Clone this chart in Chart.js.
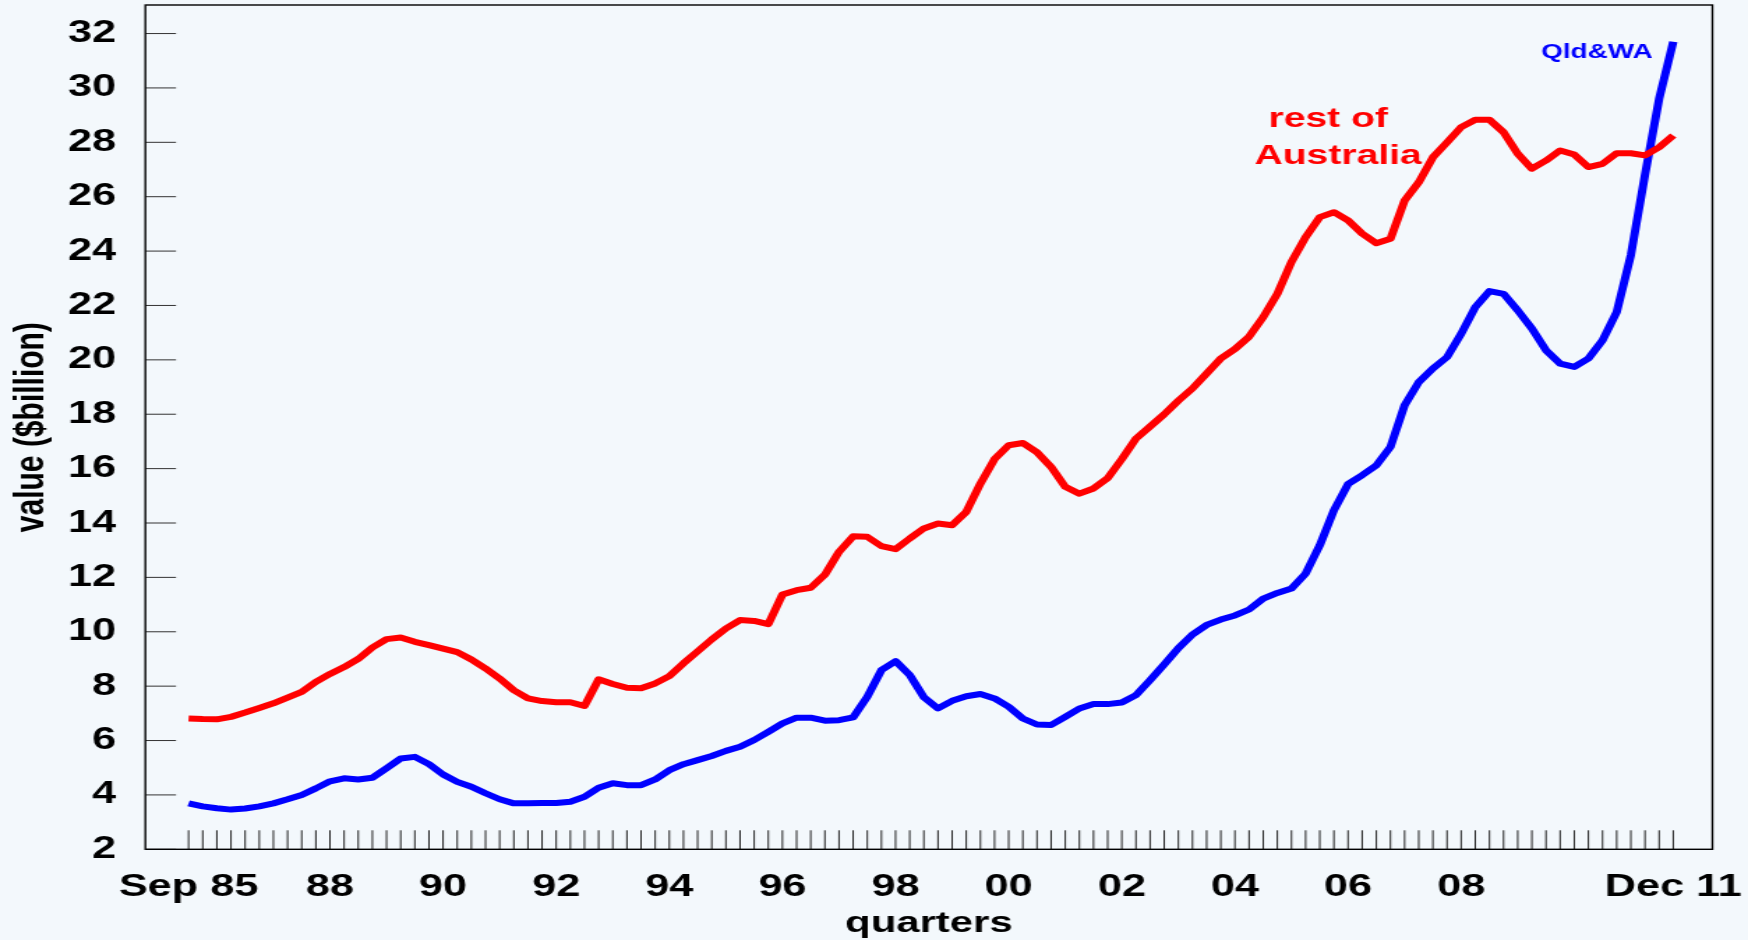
<!DOCTYPE html>
<html>
<head>
<meta charset="utf-8">
<script src="https://cdn.jsdelivr.net/npm/chart.js@4"></script>
<style>
  html, body { margin: 0; padding: 0; background: #f3f8fc; }
  canvas { display: block; }
</style>
</head>
<body>
<!-- drawn narrow and stretched sideways, like the original slide -->
<canvas id="myChart" width="1253" height="940" style="width:1748px;height:940px"></canvas>
<script>
// quarters Sep 85 .. Dec 11
const months = ['Mar', 'Jun', 'Sep', 'Dec'];
const quarters = [];
for (let k = 2; k < 108; k++) {
    quarters.push(months[k % 4] + ' ' + String(1985 + Math.floor(k / 4)).slice(2));
}

const xLabelAt = [0, 10, 18, 26, 34, 42, 50, 58, 66, 74, 82, 90, 105];
const xLabelText = ['Sep 85', '88', '90', '92', '94', '96', '98', '00', '02', '04', '06', '08', 'Dec 11'];
const yTicks = [2, 4, 6, 8, 10, 12, 14, 16, 18, 20, 22, 24, 26, 28, 30, 32];

const restOfAus = [
    6.81, 6.79, 6.78, 6.87, 7.03, 7.20, 7.37, 7.58, 7.79, 8.16,
    8.45, 8.70, 9.00, 9.42, 9.73, 9.79, 9.63, 9.51, 9.38, 9.25,
    8.98, 8.65, 8.28, 7.85, 7.55, 7.45, 7.41, 7.41, 7.27, 8.25,
    8.08, 7.94, 7.92, 8.10, 8.37, 8.84, 9.28, 9.72, 10.12, 10.43,
    10.40, 10.28, 11.37, 11.53, 11.62, 12.10, 12.94, 13.51, 13.49, 13.15,
    13.04, 13.43, 13.80, 13.98, 13.92, 14.41, 15.45, 16.35, 16.86, 16.94,
    16.60, 16.06, 15.33, 15.08, 15.27, 15.65, 16.35, 17.10, 17.55, 18.00,
    18.50, 18.95, 19.50, 20.05, 20.40, 20.85, 21.57, 22.43, 23.60, 24.51,
    25.25, 25.43, 25.13, 24.64, 24.29, 24.45, 25.86, 26.53, 27.45, 28.00,
    28.56, 28.83, 28.83, 28.37, 27.58, 27.03, 27.33, 27.70, 27.55, 27.09,
    27.21, 27.60, 27.60, 27.52, 27.82, 28.25
];

const qldWa = [
    3.69, 3.58, 3.51, 3.46, 3.50, 3.58, 3.69, 3.84, 4.00, 4.24,
    4.50, 4.61, 4.57, 4.63, 4.98, 5.34, 5.40, 5.13, 4.75, 4.48,
    4.30, 4.06, 3.84, 3.69, 3.69, 3.70, 3.70, 3.75, 3.93, 4.26,
    4.43, 4.36, 4.36, 4.57, 4.91, 5.13, 5.28, 5.43, 5.62, 5.77,
    6.02, 6.32, 6.63, 6.84, 6.84, 6.73, 6.75, 6.85, 7.61, 8.59,
    8.92, 8.41, 7.59, 7.18, 7.46, 7.63, 7.71, 7.55, 7.24, 6.81,
    6.59, 6.57, 6.87, 7.18, 7.34, 7.34, 7.40, 7.67, 8.22, 8.80,
    9.40, 9.90, 10.25, 10.45, 10.60, 10.82, 11.22, 11.43, 11.59, 12.14,
    13.18, 14.47, 15.43, 15.76, 16.12, 16.80, 18.33, 19.18, 19.68, 20.10,
    20.96, 21.94, 22.53, 22.43, 21.82, 21.15, 20.35, 19.86, 19.74, 20.05,
    20.72, 21.76, 23.85, 26.80, 29.60, 31.70
];

const seriesNames = ['rest of Australia', 'Qld&WA'];
const redNote = ['rest of', 'Australia'];
const blueNote = 'Qld&WA';

Chart.defaults.font.family = "'Liberation Sans', Arial, sans-serif";
Chart.defaults.font.weight = 'bold';
Chart.defaults.color = '#000';

// frame, inward tick marks and the line labels
const frameAndTicks = {
    id: 'frameAndTicks',
    beforeDatasetsDraw(chart) {
        const ctx = chart.ctx;
        const a = chart.chartArea;
        const x = chart.scales.x;
        const y = chart.scales.y;
        ctx.save();
        ctx.strokeStyle = '#333';
        ctx.lineWidth = 1;
        yTicks.forEach(function (v) {
            const py = y.getPixelForValue(v);
            ctx.beginPath();
            ctx.moveTo(a.left, py);
            ctx.lineTo(a.left + 22, py);
            ctx.stroke();
        });
        ctx.strokeStyle = '#222';
        ctx.lineWidth = 1;
        quarters.forEach(function (q, i) {
            const px = x.getPixelForValue(i);
            ctx.beginPath();
            ctx.moveTo(px, a.bottom);
            ctx.lineTo(px, a.bottom - 19);
            ctx.stroke();
        });
        ctx.strokeStyle = '#000';
        ctx.lineWidth = 1.4;
        ctx.strokeRect(a.left, a.top, a.right - a.left, a.bottom - a.top);
        ctx.restore();
    },
    afterDatasetsDraw(chart) {
        const ctx = chart.ctx;
        const x = chart.scales.x;
        const y = chart.scales.y;
        ctx.save();
        ctx.textAlign = 'center';
        ctx.textBaseline = 'alphabetic';
        ctx.fillStyle = '#ff0000';
        ctx.font = "bold 28px 'Liberation Sans', Arial, sans-serif";
        ctx.fillText(redNote[0], x.getPixelForValue(80.6), y.getPixelForValue(28.58));
        ctx.fillText(redNote[1], x.getPixelForValue(81.3), y.getPixelForValue(27.21));
        ctx.fillStyle = '#0000ff';
        ctx.font = "bold 20px 'Liberation Sans', Arial, sans-serif";
        ctx.fillText(blueNote, x.getPixelForValue(99.6), y.getPixelForValue(31.11));
        ctx.restore();
    }
};

function noEdgePadding(scale) {
    scale.paddingTop = 0;
    scale.paddingBottom = 0;
    scale.paddingLeft = 0;
    scale.paddingRight = 0;
}

const data = {
    datasets: [{
        label: seriesNames[0],
        data: restOfAus.map((v, i) => ({ x: i, y: v })),
        borderColor: '#ff0000',
        borderWidth: 6,
        pointRadius: 0,
        borderJoinStyle: 'round',
        tension: 0
    }, {
        label: seriesNames[1],
        data: qldWa.map((v, i) => ({ x: i, y: v })),
        borderColor: '#0000ff',
        borderWidth: 6,
        pointRadius: 0,
        borderJoinStyle: 'round',
        tension: 0
    }]
};

const config = {
    type: 'line',
    data: data,
    options: {
        responsive: false,
        devicePixelRatio: 1,
        animation: false,
        layout: {
            padding: { top: 5, right: 25.5, left: 0, bottom: 0 }
        },
        scales: {
            x: {
                type: 'linear',
                min: -3.055,
                max: 107.77,
                grid: { display: false },
                border: { display: false },
                afterBuildTicks: function (scale) {
                    scale.ticks = xLabelAt.map(v => ({ value: v }));
                },
                afterFit: function (scale) {
                    scale.height = 90.7;
                    noEdgePadding(scale);
                },
                ticks: {
                    autoSkip: false,
                    maxRotation: 0,
                    padding: 12,
                    font: { size: 31, weight: 'bold' },
                    callback: function (value, index) {
                        return xLabelText[index];
                    }
                },
                title: {
                    display: true,
                    text: 'quarters',
                    font: { size: 30, weight: 'bold' },
                    padding: { top: 0, bottom: -2 }
                }
            },
            y: {
                min: 2,
                max: 33.05,
                grid: { display: false },
                border: { display: false },
                afterBuildTicks: function (scale) {
                    scale.ticks = yTicks.map(v => ({ value: v }));
                },
                afterFit: function (scale) {
                    scale.width = 104.2;
                    noEdgePadding(scale);
                },
                ticks: {
                    padding: 13,
                    font: { size: 31, weight: 'bold' }
                },
                title: {
                    display: true,
                    text: 'value ($billion)',
                    font: { size: 30, weight: 'bold' },
                    padding: { top: 5, bottom: 5 }
                }
            }
        },
        plugins: {
            legend: { display: false },
            tooltip: { enabled: false }
        }
    },
    plugins: [frameAndTicks]
};

const myChart = new Chart(document.getElementById('myChart'), config);
</script>
</body>
</html>
